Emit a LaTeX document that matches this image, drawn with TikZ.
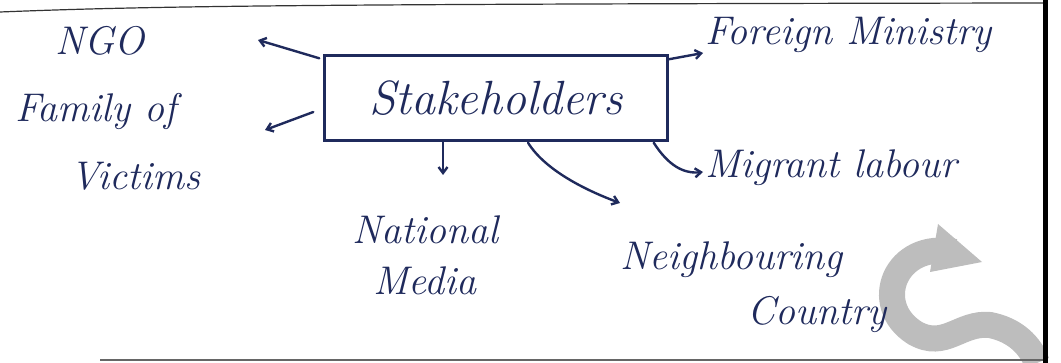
\documentclass[tikz,border=0pt]{standalone}
\usetikzlibrary{arrows.meta,calc}
\definecolor{ink}{HTML}{1F2A5C}
\definecolor{wmark}{HTML}{BDBDBD}
\begin{document}
\begin{tikzpicture}[x=1pt,y=-1pt,
  lbl/.style={text=ink,font=\fontsize{40}{44}\selectfont\itshape,inner sep=0pt},
  arr/.style={draw=ink,line width=2.4pt,-{Straight Barb[length=6pt,width=9pt]},line cap=round},
  boxst/.style={draw=ink,line width=2.4pt,minimum width=343pt,minimum height=85pt,text=ink,font=\fontsize{48}{52}\selectfont\itshape},
  page/.style={draw=black!80,line width=1.2pt}]
\useasboundingbox (0,0) rectangle (1061,363);
% watermark
\draw[wmark, line width=26pt] (955,252) .. controls (895,240) and (870,305) .. (915,333) .. controls (945,350) and (960,322) .. (990,325) .. controls (1015,330) and (1030,345) .. (1037,363);
\fill[wmark] (938,224) -- (982,262) -- (930,272) -- cycle;
% page edges
\draw[page] (0,12) .. controls (150,6) and (300,4) .. (1045,3);
\draw[black!60, line width=2pt] (100,360) -- (1045,360);
\draw[black, line width=5pt] (1045,0) -- (1045,363);
% nodes
\node[boxst] (box) at (496,98) {Stakeholders};
\node[lbl,anchor=base west] (ngo) at (55,55) {NGO};
\node[lbl,anchor=base west,align=left] (fam) at (15,190) {Family of\\[24pt]\hspace*{55pt}Victims};
\node[lbl,anchor=base west] (fm) at (705,45) {Foreign Ministry};
\node[lbl,anchor=base west] (ml) at (705,178) {Migrant labour};
\node[lbl,anchor=base west,align=left] (nm) at (352,295) {National\\[7pt]\hspace*{21pt}Media};
\node[lbl,anchor=base west,align=left] (nc) at (620,325) {Neighbouring\\[11pt]\hspace*{127pt}Country};
% connector ends
\coordinate (ngoTip) at (258,40);
\coordinate (famTip) at (265,130);
\coordinate (fmTip) at (703,53);
\coordinate (mlTip) at (703,172);
\coordinate (nmTip) at (443,175);
\coordinate (ncTip) at (620,203);
% connectors
\draw[arr] ($(box.north west)+(-4,4)$) -- (ngoTip);
\draw[arr] ($(box.west)+(-10,14)$) -- (famTip);
\draw[arr] ($(box.north east)+(0,5)$) -- (fmTip);
\draw[arr] ($(box.south east)+(-15,1)$) .. controls (668,165) and (683,174) .. (mlTip);
\draw[arr] (box.south -| nmTip) -- (nmTip);
\draw[arr] ($(box.south)+(32,1)$) .. controls (545,170) and (585,190) .. (ncTip);
\end{tikzpicture}
\end{document}
